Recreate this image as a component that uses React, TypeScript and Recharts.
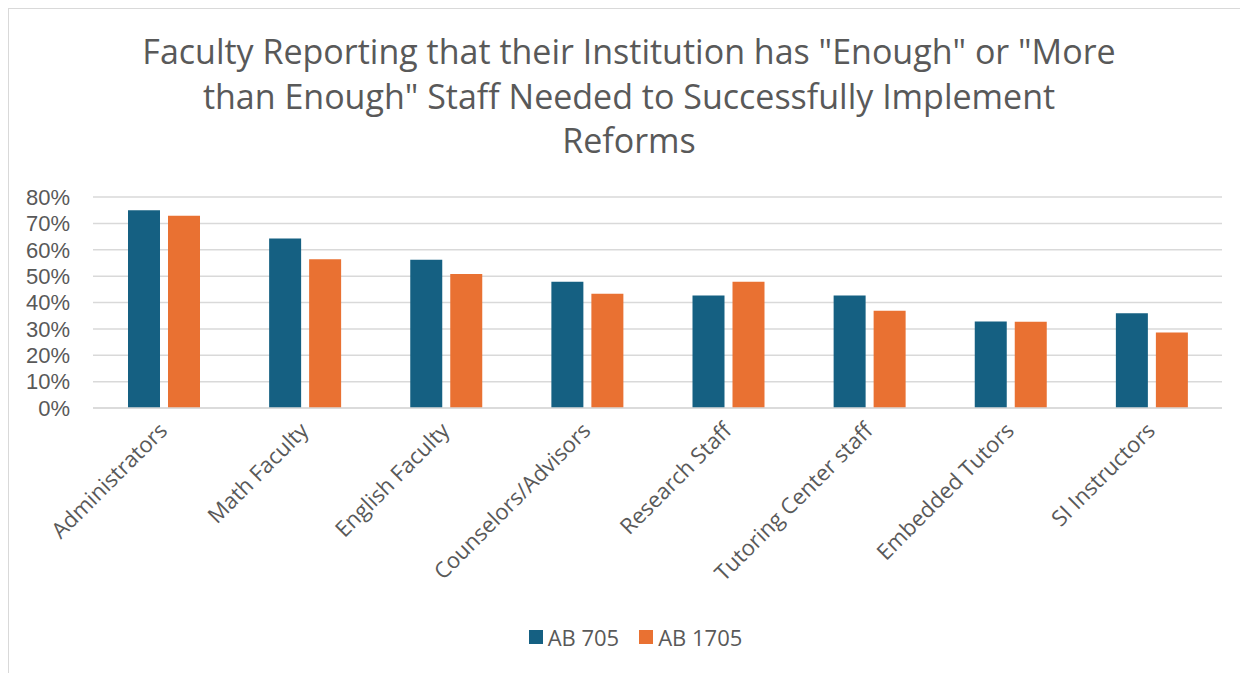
import { BarChart, Bar, XAxis, YAxis, CartesianGrid, Legend } from "recharts";

const categories = [
  "Administrators",
  "Math Faculty",
  "English Faculty",
  "Counselors/Advisors",
  "Research Staff",
  "Tutoring Center staff",
  "Embedded Tutors",
  "SI Instructors",
];
const ab705 = [75, 64.3, 56.2, 47.9, 42.7, 42.7, 32.8, 35.9];
const ab1705 = [72.9, 56.4, 50.8, 43.3, 47.9, 36.9, 32.7, 28.6];
const yTicks = [0, 10, 20, 30, 40, 50, 60, 70, 80];
const titleLines = [
  'Faculty Reporting that their Institution has "Enough" or "More',
  'than Enough" Staff Needed to Successfully Implement',
  "Reforms",
];

const data = categories.map((name, i) => ({
  name,
  ab705: ab705[i],
  ab1705: ab1705[i],
}));

const FONT = "'Open Sans', sans-serif";
const TICK_FONT = "'Liberation Sans', Arial, sans-serif";
const TEXT = "#595959";
const BLUE = "#156082";
const ORANGE = "#E97132";

function XTick(props: any) {
  const { x, y, payload } = props;
  return (
    <text
      x={x + 5}
      y={y + 16}
      textAnchor="end"
      fill={TEXT}
      fontSize={22}
      fontFamily={FONT}
      transform={`rotate(-45, ${x + 5}, ${y + 16})`}
    >
      {payload.value}
    </text>
  );
}

function LegendBox() {
  const items = [
    { label: "AB 705", color: BLUE },
    { label: "AB 1705", color: ORANGE },
  ];
  return (
    <div style={{ display: "flex", justifyContent: "center", gap: 20, marginLeft: 40 }}>
      {items.map((it) => (
        <div key={it.label} style={{ display: "flex", alignItems: "center" }}>
          <span style={{ width: 14, height: 14, background: it.color, marginRight: 5 }} />
          <span style={{ fontSize: 22, color: TEXT, fontFamily: FONT }}>{it.label}</span>
        </div>
      ))}
    </div>
  );
}

export default function App() {
  return (
    <div
      style={{
        position: "relative",
        width: 1240,
        height: 665,
        boxSizing: "border-box",
        borderTop: "1.5px solid #d9d9d9",
        borderLeft: "1.5px solid #d9d9d9",
        background: "#fff",
      }}
    >
      <div
        style={{
          position: "absolute",
          top: 20,
          left: 0,
          width: 1240,
          textAlign: "center",
          fontFamily: FONT,
          fontSize: 34,
          lineHeight: "44.5px",
          color: TEXT,
        }}
      >
        {titleLines.map((l) => (
          <div key={l}>{l}</div>
        ))}
      </div>
      <BarChart
        width={1238}
        height={663}
        data={data}
        margin={{ top: 188, right: 25, bottom: 24, left: 0 }}
        barGap={8}
        barSize={32}
      >
        <CartesianGrid vertical={false} stroke="#d9d9d9" strokeWidth={1.5} />
        <XAxis
          dataKey="name"
          interval={0}
          height={214}
          axisLine={{ stroke: "#d9d9d9", strokeWidth: 1.5 }}
          tickLine={false}
          tick={<XTick />}
        />
        <YAxis
          width={84}
          domain={[0, 80]}
          ticks={yTicks}
          interval={0}
          axisLine={false}
          tickLine={false}
          tickSize={0}
          tickMargin={23}
          tickFormatter={(v: number) => `${v}%`}
          tick={{ fill: TEXT, fontSize: 22, fontFamily: TICK_FONT }}
        />
        <Legend verticalAlign="bottom" height={26} content={<LegendBox />} />
        <Bar dataKey="ab705" name="AB 705" fill={BLUE} isAnimationActive={false} />
        <Bar dataKey="ab1705" name="AB 1705" fill={ORANGE} isAnimationActive={false} />
      </BarChart>
    </div>
  );
}
